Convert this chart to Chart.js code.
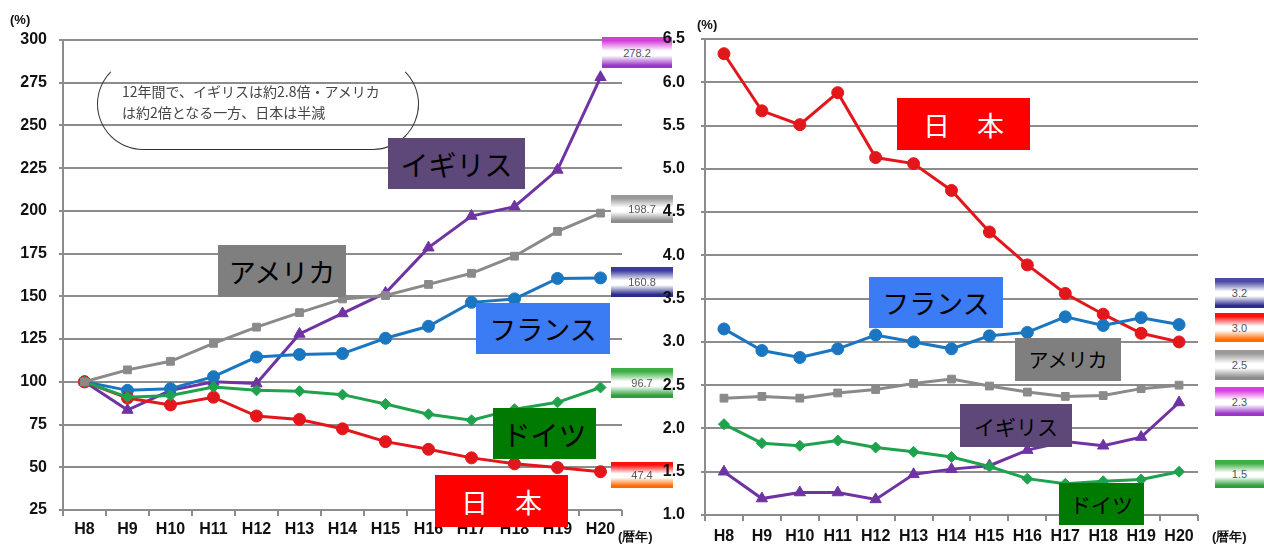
<!DOCTYPE html>
<html>
<head>
<meta charset="utf-8">
<script src="https://cdn.jsdelivr.net/npm/chart.js@4/dist/chart.umd.min.js"></script>
<style>
  body { margin: 0; background: #fff; width: 1264px; height: 548px; overflow: hidden; position: relative; font-family: "Noto Sans CJK JP", sans-serif; }
  canvas { position: absolute; top: 0; }
  #idx { z-index: 0; }
  #share { z-index: 2; }
  .unit { position: absolute; z-index: 3; font: bold 13px "Liberation Sans", Arial, sans-serif; color: #111; }
  .name { position: absolute; z-index: 3; display: flex; align-items: center; justify-content: center; color: #000; font-family: "Noto Sans CJK JP", sans-serif; }
  .tag { position: absolute; z-index: 1; display: flex; align-items: center; justify-content: center; font: 11px "Liberation Sans", Arial, sans-serif; color: #555; }
  .bubble { position: absolute; z-index: 1; left: 97px; top: 58px; width: 320px; height: 90px; border: 1.5px solid #333; border-top-color: transparent; border-radius: 46px; }
  .bubble p { margin: 0; position: absolute; left: 24px; top: 22px; font-size: 14px; line-height: 21px; color: #444; white-space: nowrap; }
</style>
</head>
<body>
<canvas id="idx" width="640" height="548" style="left:0"></canvas>
<canvas id="share" width="624" height="548" style="left:640px"></canvas>

<script>
const years = ['H8', 'H9', 'H10', 'H11', 'H12', 'H13', 'H14', 'H15', 'H16', 'H17', 'H18', 'H19', 'H20'];

// 論文数の推移（H8 = 100）
const idxJapan   = [100, 90.5, 86.5, 91, 80, 78, 72.5, 65, 60.5, 55.5, 52, 49.8, 47.4];
const idxGermany = [100, 91, 92, 97, 95, 94.5, 92.5, 87, 81, 77.5, 84, 88, 96.7];
const idxFrance  = [100, 95, 96, 103, 114.5, 116, 116.5, 125.5, 132.5, 146.5, 148.5, 160.5, 160.8];
const idxUSA     = [100, 107, 112, 122.5, 132, 140.5, 148.5, 150.5, 157, 163.5, 173.5, 188, 198.7];
const idxUK      = [100, 83.5, 95, 100, 99, 128, 140, 152, 178.5, 197, 202.5, 224, 278.2];

// シェア（%）
const shJapan   = [6.33, 5.67, 5.51, 5.88, 5.13, 5.06, 4.75, 4.27, 3.89, 3.56, 3.32, 3.10, 3.0];
const shFrance  = [3.15, 2.90, 2.82, 2.92, 3.08, 3.0, 2.92, 3.07, 3.11, 3.29, 3.19, 3.28, 3.2];
const shUSA     = [2.35, 2.37, 2.35, 2.41, 2.45, 2.52, 2.57, 2.49, 2.42, 2.37, 2.38, 2.46, 2.5];
const shUK      = [1.5, 1.19, 1.26, 1.26, 1.18, 1.47, 1.53, 1.57, 1.75, 1.85, 1.80, 1.90, 2.3];
const shGermany = [2.05, 1.83, 1.80, 1.86, 1.78, 1.73, 1.67, 1.56, 1.42, 1.36, 1.39, 1.41, 1.5];

const idxTicks = [25, 50, 75, 100, 125, 150, 175, 200, 225, 250, 275, 300];
const shTicks = [1.0, 1.5, 2.0, 2.5, 3.0, 3.5, 4.0, 4.5, 5.0, 5.5, 6.0, 6.5];

const RED = '#e3161b', GREEN = '#1fa24d', BLUE = '#1a76c0', GRAY = '#8a8a8a', PURPLE = '#6f33a3';

function line(data, color, style, r) {
  return {
    data: data, borderColor: color, backgroundColor: color, borderWidth: 3,
    pointStyle: style, pointRadius: r, pointBorderWidth: 1, tension: 0
  };
}

function makeChart(id, sets, ticks, digits, box) {
  const axisFont = { family: '"Liberation Sans", Arial, sans-serif', size: 16, weight: 'bold' };
  return new Chart(document.getElementById(id), {
    type: 'line',
    data: { labels: years, datasets: sets },
    options: {
      responsive: false, animation: false, devicePixelRatio: 1,
      layout: { padding: { top: box.top, right: box.right, left: 0, bottom: 0 } },
      plugins: { legend: { display: false }, tooltip: { enabled: false } },
      scales: {
        x: {
          offset: true,
          grid: { drawOnChartArea: false, offset: true, tickLength: 6, color: '#8c8c8c', lineWidth: 2 },
          border: { display: false },
          ticks: { color: '#111', font: axisFont, padding: box.xpad, maxRotation: 0, autoSkip: false },
          afterFit: s => { s.height = box.xh; }
        },
        y: {
          min: ticks[0], max: ticks[ticks.length - 1],
          afterBuildTicks: s => { s.ticks = ticks.map(v => ({ value: v })); },
          grid: { color: '#8c8c8c', lineWidth: 2, tickLength: 4 },
          border: { color: '#8c8c8c', width: 2 },
          ticks: { color: '#111', font: axisFont, padding: box.ypad, callback: v => v.toFixed(digits) },
          afterFit: s => { s.width = box.yw; }
        }
      }
    }
  });
}

makeChart('idx', [
  line(idxUSA, GRAY, 'rect', 5.5),
  line(idxGermany, GREEN, 'rectRot', 5.5),
  line(idxJapan, RED, 'circle', 6),
  line(idxFrance, BLUE, 'circle', 6),
  line(idxUK, PURPLE, 'triangle', 6.5)
], idxTicks, 0, { top: 40, right: 18, xh: 38, yw: 63, xpad: 4, ypad: 12 });

makeChart('share', [
  line(shUSA, GRAY, 'rect', 5.5),
  line(shGermany, GREEN, 'rectRot', 5.5),
  line(shUK, PURPLE, 'triangle', 6.5),
  line(shFrance, BLUE, 'circle', 6),
  line(shJapan, RED, 'circle', 6)
], shTicks, 1, { top: 39, right: 66, xh: 33, yw: 65, xpad: 6, ypad: 16 });

// 国名ラベル・末尾の値タグ
function addDiv(cls, css, html) {
  const d = document.createElement('div');
  d.className = cls;
  d.style.cssText = css;
  d.innerHTML = html;
  document.body.appendChild(d);
}

const names = [
  ['イギリス', 388, 138, 137, 51, '#5e4879', '#000', 28],
  ['アメリカ', 218, 245, 128, 52, '#7f7f7f', '#000', 27],
  ['フランス', 476, 303, 134, 51, '#3b7bf3', '#000', 27],
  ['ドイツ', 493, 408, 103, 51, '#007a00', '#000', 28],
  ['日　本', 435, 475, 133, 52, '#ff0000', '#fff', 27],
  ['日　本', 897, 98, 133, 52, '#ff0000', '#fff', 27],
  ['フランス', 869, 277, 134, 51, '#3b7bf3', '#000', 27],
  ['アメリカ', 1015, 338, 106, 43, '#7f7f7f', '#000', 20],
  ['イギリス', 960, 404, 112, 43, '#5e4879', '#000', 21],
  ['ドイツ', 1059, 483, 85, 42, '#007a00', '#000', 21]
];
names.forEach(n => addDiv('name',
  `left:${n[1]}px;top:${n[2]}px;width:${n[3]}px;height:${n[4]}px;background:${n[5]};color:${n[6]};font-size:${n[7]}px`, n[0]));

const last = a => a[a.length - 1];
const grad = (a, b) => `linear-gradient(to bottom, ${a} 0%, ${a} 12%, #fff 45%, #fff 60%, ${b} 92%, ${b} 100%)`;
const tags = [
  [last(idxUK), 602, 37, 70, 31, '#d23fd8', '#9a35c8'],
  [last(idxUSA), 611, 195, 62, 28, '#9a9a9a', '#8c8c8c'],
  [last(idxFrance), 611, 267, 62, 30, '#3b3b9e', '#2a2a8c'],
  [last(idxGermany), 611, 368, 62, 30, '#3cae44', '#2e9e3c'],
  [last(idxJapan), 611, 462, 62, 26, '#ff1010', '#ff6a00'],
  [last(shFrance), 1215, 278, 49, 30, '#4a4aa6', '#2c2c8e'],
  [last(shJapan), 1215, 313, 49, 29, '#ff1010', '#ff6a00'],
  [last(shUSA), 1215, 350, 49, 30, '#9a9a9a', '#8c8c8c'],
  [last(shUK), 1215, 387, 49, 29, '#d83fe0', '#9a35c8'],
  [last(shGermany), 1215, 460, 49, 28, '#3cae44', '#2e9e3c']
];
tags.forEach(t => addDiv('tag',
  `left:${t[1]}px;top:${t[2]}px;width:${t[3]}px;height:${t[4]}px;background:${grad(t[5], t[6])}`, t[0].toFixed(1)));

addDiv('unit', 'left:10px;top:12px', '(%)');
addDiv('unit', 'left:697px;top:17px', '(%)');
addDiv('unit', 'left:618px;top:528px', '(暦年)');
addDiv('unit', 'left:1212px;top:528px', '(暦年)');
addDiv('bubble', '', '<p>12年間で、イギリスは約2.8倍・アメリカ<br>は約2倍となる一方、日本は半減</p>');
</script>
</body>
</html>
